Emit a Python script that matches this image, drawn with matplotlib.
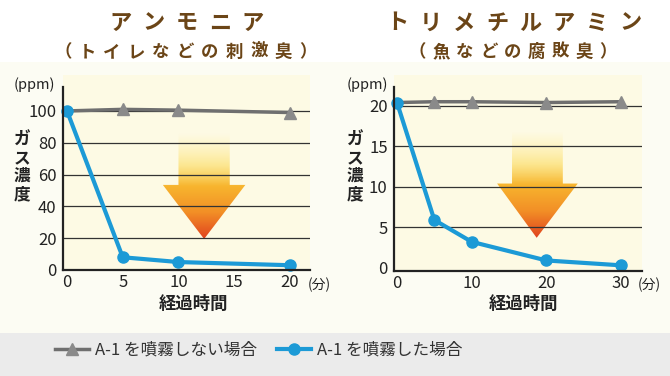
import matplotlib
matplotlib.use('Agg')
import matplotlib.pyplot as plt
import numpy as np
from matplotlib.patches import Polygon, Rectangle
from matplotlib.lines import Line2D

plt.rcParams['font.family'] = ['Noto Sans CJK JP', 'DejaVu Sans']

# データ
ammonia_t = [0, 5, 10, 20]
ammonia_none = [100, 101, 100.5, 99]
ammonia_spray = [100, 8, 5, 3]
ammonia_yticks = [0, 20, 40, 60, 80, 100]
ammonia_xticks = [0, 5, 10, 15, 20]

tma_t = [0, 5, 10, 20, 30]
tma_none = [20.4, 20.5, 20.5, 20.4, 20.5]
tma_spray = [20.4, 5.9, 3.2, 0.9, 0.3]
tma_yticks = [0, 5, 10, 15, 20]
tma_xticks = [0, 10, 20, 30]

label_none = 'A-1 を噴霧しない場合'
label_spray = 'A-1 を噴霧した場合'

BROWN = '#6b4517'
BLUE = '#1c9ad6'
GRAY_LINE = '#6f6f6f'
GRAY_MARK = '#8a8a8a'
TXT = '#222222'

W, H = 670, 376
fx = lambda x: x / W
fy = lambda y: 1 - y / H

fig = plt.figure(figsize=(6.7, 3.76), dpi=100)
fig.patch.set_facecolor('white')
# 背景の帯
fig.add_artist(Rectangle((0, fy(333)), 1, fy(62) - fy(333), transform=fig.transFigure,
                         facecolor='#fcfcf3', edgecolor='none', zorder=0))
fig.add_artist(Rectangle((0, 0), 1, fy(333), transform=fig.transFigure,
                         facecolor='#ebebeb', edgecolor='none', zorder=0))


def spaced_text(s, x0, pitch, y, size):
    for i, ch in enumerate(s):
        fig.text(fx(x0 + i * pitch), fy(y), ch, ha='center', va='center',
                 fontsize=size, fontweight='bold', color=BROWN)


def draw_arrow(ax, shaft, head, top, shoulder, tip):
    verts = [(shaft[0], top), (shaft[1], top), (shaft[1], shoulder), (head[1], shoulder),
             tip, (head[0], shoulder), (shaft[0], shoulder)]
    poly = Polygon(verts, closed=True, facecolor='none', edgecolor='none',
                   transform=ax.transData)
    ax.add_patch(poly)
    n = 200
    t = np.linspace(0, 1, n)
    stops = [0.0, 0.3, 0.5, 0.75, 1.0]
    cols = np.array([[1.00, 0.93, 0.55, 0.0],
                     [0.99, 0.86, 0.36, 0.6],
                     [0.97, 0.71, 0.18, 1.0],
                     [0.95, 0.56, 0.15, 1.0],
                     [0.88, 0.26, 0.12, 1.0]])
    grad = np.stack([np.interp(t, stops, cols[:, k]) for k in range(4)], axis=1)
    grad = grad.reshape(n, 1, 4)
    im = ax.imshow(grad, extent=(head[0], head[1], tip[1], top), origin='upper',
                   aspect='auto', zorder=1, interpolation='bilinear')
    im.set_clip_path(poly)


def setup(ax, t, none, spray, yticks, xticks, ybottom, spine_top):
    ax.set_facecolor('#fdfae4')
    for v in yticks[1:]:
        ax.axhline(v, color='#333333', lw=0.9, zorder=2)
    ax.plot(t, none, color=GRAY_LINE, lw=2.5, marker='^', ms=9, mfc=GRAY_MARK,
            mec=GRAY_MARK, markevery=list(range(1, len(t))), zorder=3, clip_on=False)
    ax.plot(t, spray, color=BLUE, lw=3, marker='o', ms=8, zorder=4, clip_on=False)
    ax.set_xticks(xticks)
    ax.set_yticks(yticks)
    ax.tick_params(length=0, labelsize=12, colors=TXT, pad=4.5)
    ax.tick_params(axis='x', pad=3)
    for s in ['top', 'right']:
        ax.spines[s].set_visible(False)
    for s in ['left', 'bottom']:
        ax.spines[s].set_color('#222222')
        ax.spines[s].set_linewidth(1.6)
        ax.spines[s].set_zorder(5)
    ax.spines['left'].set_bounds(ybottom, spine_top)
    return ax


# 左：アンモニア
ax1 = fig.add_axes([fx(63), fy(270), fx(310) - fx(63), fy(75) - fy(270)])
setup(ax1, ammonia_t, ammonia_none, ammonia_spray, ammonia_yticks, ammonia_xticks, 0, 115)
draw_arrow(ax1, (10.0, 14.6), (8.6, 16.0), 86, 53.5, (12.3, 19.5))
ax1.set_xlim(-0.36, 21.8)
ax1.set_ylim(0, 122.6)

# 右：トリメチルアミン
ax2 = fig.add_axes([fx(394), fy(271), fx(642) - fx(394), fy(75) - fy(271)])
setup(ax2, tma_t, tma_none, tma_spray, tma_yticks, tma_xticks, -0.4, 22.3)
draw_arrow(ax2, (15.4, 22.2), (13.4, 24.2), 16.8, 10.4, (18.7, 3.7))
ax2.set_xlim(-0.4, 32.8)
ax2.set_ylim(-0.4, 23.8)

# タイトル
spaced_text('アンモニア', 121, 33, 23, 16)
spaced_text('（トイレなどの刺激臭）', 63, 24.5, 52, 12.5)
spaced_text('トリメチルアミン', 397, 33.4, 23, 16)
spaced_text('（魚などの腐敗臭）', 417, 23.9, 52, 12.5)

# 軸ラベル
for x_ppm, x_gas, x_min, x_lab in [(34, 22, 319, 193), (367, 355, 649, 523)]:
    fig.text(fx(x_ppm), fy(85), '(ppm)', ha='center', va='center', fontsize=10.5, color=TXT)
    fig.text(fx(x_gas), fy(167), '\n'.join('ガス濃度'), ha='center', va='center',
             fontsize=12, fontweight='bold', color=TXT, linespacing=1.0)
    fig.text(fx(x_min), fy(285), '(分)', ha='center', va='center', fontsize=10, color=TXT)
    fig.text(fx(x_lab), fy(304), '経過時間', ha='center', va='center', fontsize=12.5,
             fontweight='bold', color=TXT)

# 凡例
h_none = Line2D([], [], color=GRAY_LINE, lw=2.5, marker='^', ms=9, mfc=GRAY_MARK, mec=GRAY_MARK)
h_spray = Line2D([], [], color=BLUE, lw=3, marker='o', ms=8)
leg = fig.legend([h_none, h_spray], [label_none, label_spray], loc='center',
                 bbox_to_anchor=(fx(259), fy(350)), ncol=2, frameon=False, fontsize=12,
                 handlelength=2.0, handletextpad=0.4, columnspacing=1.2)
for txt in leg.get_texts():
    txt.set_color('#333333')

fig.savefig('out.png', dpi=100)
